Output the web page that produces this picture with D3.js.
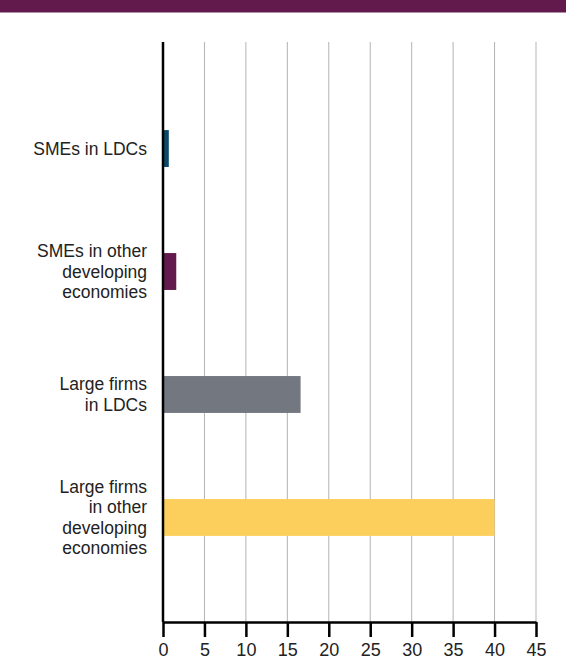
<!DOCTYPE html>
<html>
<head>
<meta charset="utf-8">
<script src="https://cdn.jsdelivr.net/npm/d3@7"></script>
<style>
  html, body { margin: 0; padding: 0; background: #fff; }
  svg { display: block; }
  text { font-family: "Liberation Sans", Arial, Helvetica, sans-serif; fill: #222; }
</style>
</head>
<body>
<svg id="chart" width="566" height="662"></svg>
<script>
// Categories (top to bottom), each label split into its display lines
const categories = [
  "SMEs in LDCs",
  "SMEs in other developing economies",
  "Large firms in LDCs",
  "Large firms in other developing economies"
];
const labelLines = [
  ["SMEs in LDCs"],
  ["SMEs in other", "developing", "economies"],
  ["Large firms", "in LDCs"],
  ["Large firms", "in other", "developing", "economies"]
];
const values = [0.7, 1.6, 16.6, 40];
const barColors = ["#0a4a68", "#621a4d", "#737880", "#fccf5c"];
const xTicks = [0, 5, 10, 15, 20, 25, 30, 35, 40, 45];

const svg = d3.select("#chart");
const W = 566, H = 662;
const plot = { left: 163, right: 536, top: 42, bottom: 622 };

// Header band
svg.append("rect").attr("x", 0).attr("y", 0).attr("width", W).attr("height", 12.5)
  .attr("fill", "#621a4d");

const x = d3.scaleLinear().domain([0, 45]).range([plot.left, plot.right]);
const y = d3.scaleBand().domain(categories).range([plot.top + 2, plot.bottom])
  .paddingInner(0.7).paddingOuter(0.7);

// Vertical gridlines
svg.append("g").selectAll("line").data(xTicks.slice(1)).join("line")
  .attr("x1", d => x(d)).attr("x2", d => x(d))
  .attr("y1", plot.top).attr("y2", plot.bottom)
  .attr("stroke", "#b3b3b3").attr("stroke-width", 1);

// Bars
svg.append("g").selectAll("rect").data(categories).join("rect")
  .attr("x", x(0))
  .attr("y", d => y(d))
  .attr("width", (d, i) => x(values[i]) - x(0))
  .attr("height", y.bandwidth())
  .attr("fill", (d, i) => barColors[i]);

// Bottom axis
const xAxis = d3.axisBottom(x).tickValues(xTicks).tickSize(15).tickPadding(6).tickSizeOuter(0);
const gx = svg.append("g").attr("transform", `translate(0,${plot.bottom})`).call(xAxis);
gx.select(".domain").attr("stroke", "#000").attr("stroke-width", 2.5);
gx.selectAll(".tick line").attr("stroke", "#000").attr("stroke-width", 2.5);
gx.selectAll(".tick text").attr("font-size", 18)
  .attr("font-family", "'Liberation Sans', Arial, sans-serif").attr("fill", "#222");

// Left axis line
svg.append("line")
  .attr("x1", x(0)).attr("x2", x(0))
  .attr("y1", plot.top).attr("y2", plot.bottom)
  .attr("stroke", "#000").attr("stroke-width", 2.5);

// Category labels, right-aligned and centred on each bar
const lineH = 20.5;
const lbl = svg.append("g").selectAll("text").data(categories).join("text")
  .attr("text-anchor", "end")
  .attr("font-size", 17.5)
  .attr("x", 147)
  .attr("y", d => y(d) + y.bandwidth() / 2);
lbl.each(function(d, i) {
  const lines = labelLines[i];
  const t = d3.select(this);
  const y0 = -((lines.length - 1) * lineH) / 2;
  lines.forEach((s, j) => {
    t.append("tspan").attr("x", 147)
      .attr("dy", j === 0 ? y0 + 6 : lineH)
      .text(s);
  });
});
</script>
</body>
</html>
